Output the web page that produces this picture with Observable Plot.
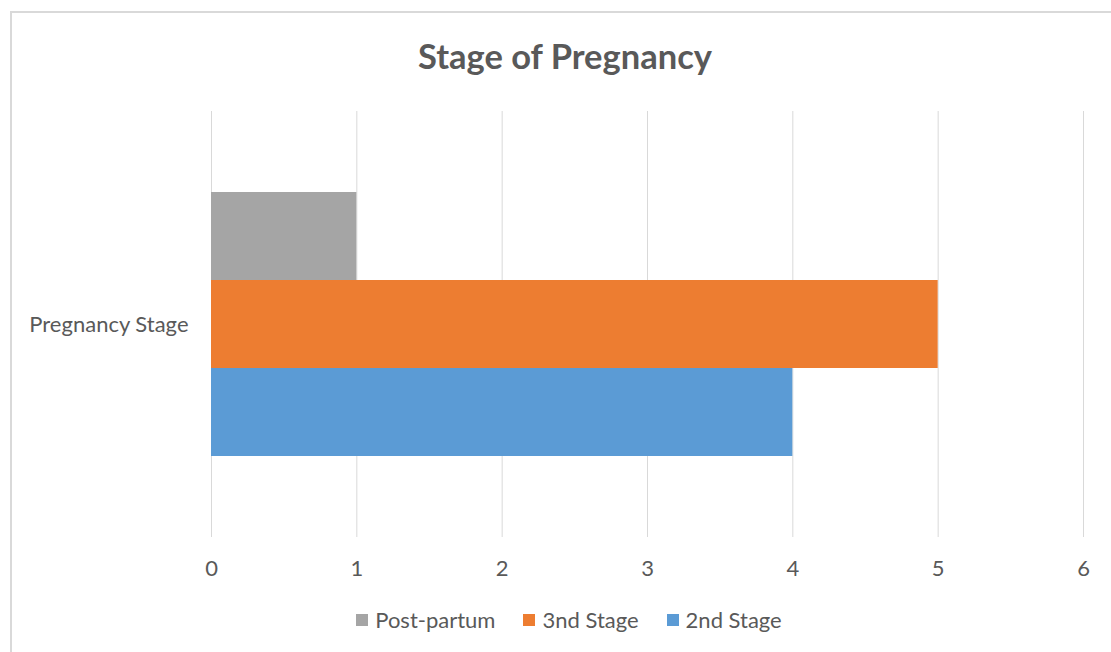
<!DOCTYPE html>
<html>
<head>
<meta charset="utf-8">
<script src="https://cdn.jsdelivr.net/npm/d3@7"></script>
<script src="https://cdn.jsdelivr.net/npm/@observablehq/plot@0.6"></script>
<style>
  html, body { margin: 0; padding: 0; background: #fff; overflow: hidden; }
  #chart { position: relative; width: 1111px; height: 652px; overflow: hidden; font-family: Lato, "Open Sans", sans-serif; color: #595959; }
  #frame { position: absolute; left: 10px; top: 11px; width: 1200px; height: 700px; border-left: 2px solid #d9d9d9; border-top: 2px solid #d9d9d9; }
  #title { position: absolute; left: 0; width: 1130px; top: 35px; text-align: center; font-size: 34.5px; font-weight: bold; line-height: 1.2; }
  #plot { position: absolute; left: 0; top: 0; }
  #legend { position: absolute; left: 0; width: 1138px; top: 606px; display: flex; justify-content: center; gap: 28px; font-size: 22px; line-height: 28px; }
  #legend .item { display: flex; align-items: center; gap: 7px; }
  #legend .swatch { width: 12px; height: 12px; }
</style>
</head>
<body>
<div id="chart">
  <div id="frame"></div>
  <div id="title">Stage of Pregnancy</div>
  <div id="plot"></div>
  <div id="legend"></div>
</div>
<script>
// Category, series and values for the clustered bar chart
const categories = ["Pregnancy Stage"];
const series = ["Post-partum", "3nd Stage", "2nd Stage"];
const values = [1, 5, 4];
const colors = ["#a5a5a5", "#ed7d31", "#5b9bd5"];
const xTicks = [0, 1, 2, 3, 4, 5, 6];

const data = series.map((s, i) => ({category: categories[0], series: s, value: values[i]}));

const chart = Plot.plot({
  width: 1111,
  height: 600,
  marginLeft: 211,
  marginRight: 28,
  marginTop: 111,
  marginBottom: 63,
  style: {fontFamily: "Lato, 'Open Sans', sans-serif", fontSize: "22px", color: "#595959", background: "transparent", overflow: "visible"},
  x: {domain: [0, 6], ticks: xTicks, tickSize: 0, tickPadding: 23, label: null, tickFormat: d3.format("d")},
  y: {domain: series, paddingInner: 0, paddingOuter: 0.917, axis: null},
  fy: {domain: categories, label: null, axis: "left", tickSize: 0, tickPadding: 23, padding: 0},
  color: {domain: series, range: colors},
  marks: [
    Plot.gridX(xTicks, {stroke: "#d9d9d9", strokeOpacity: 1, strokeWidth: 1}),
    Plot.barX(data, {x: "value", y: "series", fy: "category", fill: "series"})
  ]
});
document.getElementById("plot").appendChild(chart);

// Legend built from the same series and colours
const legend = document.getElementById("legend");
series.forEach((s, i) => {
  const item = document.createElement("div");
  item.className = "item";
  const sw = document.createElement("span");
  sw.className = "swatch";
  sw.style.background = colors[i];
  const label = document.createElement("span");
  label.textContent = s;
  item.appendChild(sw);
  item.appendChild(label);
  legend.appendChild(item);
});
</script>
</body>
</html>
